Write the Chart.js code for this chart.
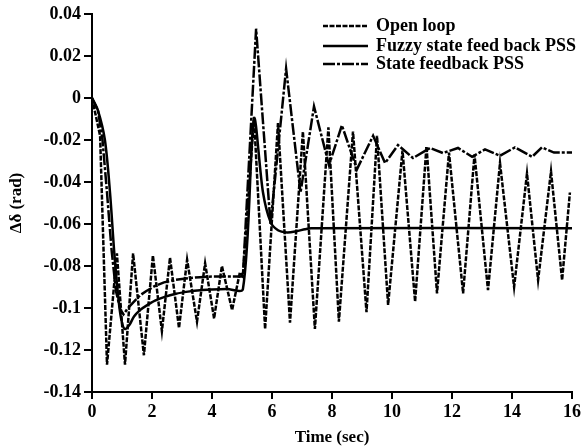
<!DOCTYPE html>
<html>
<head>
<meta charset="utf-8">
<script src="https://cdn.jsdelivr.net/npm/chart.js@4"></script>
<style>
  body { margin: 0; background: #fff; }
  #wrap { width: 584px; height: 448px; }
</style>
</head>
<body>
<div id="wrap"><canvas id="deltaChart" width="584" height="448"></canvas></div>
<script>
// Time samples (sec) and rotor angle deviation (rad) for each case
const openLoopTime = [0, 0.27, 0.5, 0.83, 1.1, 1.37, 1.73, 2.03, 2.33, 2.6, 2.9, 3.17, 3.5, 3.77, 4.07, 4.33, 4.67, 4.93, 5.03,
    5.4, 5.77, 6.2, 6.6, 7.03, 7.43, 7.88, 8.23, 8.7, 9.15, 9.5, 9.87, 10.35, 10.77, 11.15, 11.5, 11.9, 12.37, 12.75,
    13.2, 13.6, 14.07, 14.5, 14.87, 15.3, 15.67, 15.93];
const openLoopDelta = [0, -0.018, -0.127, -0.074, -0.127, -0.074, -0.1225, -0.075, -0.111, -0.076, -0.1095, -0.077, -0.1065, -0.0787, -0.105, -0.08, -0.101, -0.083, -0.085,
    -0.009, -0.11, -0.012, -0.107, -0.016, -0.11, -0.014, -0.1065, -0.016, -0.102, -0.018, -0.0985, -0.025, -0.097, -0.023, -0.093, -0.026, -0.093, -0.027,
    -0.0915, -0.031, -0.09, -0.036, -0.0867, -0.035, -0.0867, -0.045];

const fuzzyTime = [0, 0.2, 0.43, 0.6, 0.75, 0.9, 1.0, 1.1, 1.25, 1.4, 1.6, 1.8, 2.1, 2.4, 2.8, 3.2, 3.6, 4.0, 4.5, 5.03,
    5.4, 5.7, 5.95, 6.2, 6.5, 6.8, 7.1, 7.3, 16];
const fuzzyDelta = [0, -0.006, -0.02, -0.045, -0.075, -0.098, -0.107, -0.11, -0.108, -0.104, -0.101, -0.099, -0.0965, -0.0948, -0.0932, -0.0922, -0.0915, -0.0912, -0.091, -0.091,
    -0.01, -0.045, -0.059, -0.063, -0.064, -0.0635, -0.0625, -0.062, -0.062];

const stateFbTime = [0, 0.2, 0.35, 0.5, 0.65, 0.8, 0.95, 1.05, 1.2, 1.4, 1.6, 1.8, 2.1, 2.4, 2.8, 3.2, 3.6, 4.0, 5.03,
    5.47, 5.95, 6.47, 6.95, 7.4, 7.9, 8.33, 8.83, 9.37, 9.77, 10.2, 10.7, 11.27, 11.7, 12.2, 12.67, 13.1, 13.6,
    14.1, 14.67, 15.0, 15.4, 16];
const stateFbDelta = [0, -0.006, -0.02, -0.045, -0.072, -0.092, -0.101, -0.103, -0.1, -0.097, -0.094, -0.092, -0.0895, -0.0878, -0.0865, -0.0858, -0.0853, -0.085, -0.085,
    0.033, -0.06, 0.014, -0.045, -0.004, -0.032, -0.013, -0.034, -0.018, -0.031, -0.0224, -0.0286, -0.0238, -0.0262, -0.0238, -0.028, -0.0245, -0.0275,
    -0.0235, -0.028, -0.0235, -0.026, -0.026];

const seriesLabels = ['Open loop', 'Fuzzy state feed back PSS', 'State feedback PSS'];
const xTicks = [0, 2, 4, 6, 8, 10, 12, 14, 16];
const yTicks = [-0.14, -0.12, -0.1, -0.08, -0.06, -0.04, -0.02, 0, 0.02, 0.04];

function toPoints(ts, vs) {
    return ts.map((t, i) => ({ x: t, y: vs[i] }));
}

const serif = '"Liberation Serif", "Times New Roman", serif';

// Legend drawn inside the plot, top right
const innerLegend = {
    id: 'innerLegend',
    afterDraw(chart) {
        const c = chart.ctx;
        const rows = [26, 46, 64];
        c.save();
        chart.data.datasets.forEach((ds, i) => {
            const y = rows[i];
            c.strokeStyle = '#000';
            c.lineWidth = 2.5;
            c.setLineDash(ds.borderDash || []);
            c.beginPath();
            c.moveTo(323, y);
            c.lineTo(368, y);
            c.stroke();
            c.setLineDash([]);
            c.fillStyle = '#000';
            c.font = 'bold 18px ' + serif;
            c.textBaseline = 'middle';
            c.textAlign = 'left';
            c.fillText(ds.label, 376, y);
        });
        c.restore();
    }
};

const ctx = document.getElementById('deltaChart').getContext('2d');
const deltaChart = new Chart(ctx, {
    type: 'line',
    data: {
        datasets: [
            {
                label: seriesLabels[0],
                data: toPoints(openLoopTime, openLoopDelta),
                borderColor: '#000',
                borderWidth: 2.5,
                borderDash: [5, 1.5],
                pointRadius: 0,
                tension: 0
            },
            {
                label: seriesLabels[1],
                data: toPoints(fuzzyTime, fuzzyDelta),
                borderColor: '#000',
                borderWidth: 2.5,
                pointRadius: 0,
                tension: 0.3
            },
            {
                label: seriesLabels[2],
                data: toPoints(stateFbTime, stateFbDelta),
                borderColor: '#000',
                borderWidth: 2.5,
                borderDash: [12, 2, 3, 2],
                pointRadius: 0,
                tension: 0
            }
        ]
    },
    options: {
        responsive: false,
        animation: false,
        layout: { padding: { top: 14, right: 12, left: 0, bottom: 0 } },
        plugins: {
            legend: { display: false },
            tooltip: { enabled: false }
        },
        scales: {
            x: {
                type: 'linear',
                min: 0,
                max: 16,
                afterBuildTicks: axis => { axis.ticks = xTicks.map(v => ({ value: v })); },
                afterFit: axis => { axis.height = 56; },
                border: { color: '#000', width: 2 },
                grid: { drawOnChartArea: false, color: '#000', lineWidth: 2, tickLength: 7 },
                ticks: {
                    color: '#000',
                    padding: 3,
                    maxRotation: 0,
                    font: { family: serif, size: 18, weight: 'bold' }
                },
                title: {
                    display: true,
                    text: 'Time (sec)',
                    color: '#000',
                    padding: { top: 0, bottom: 0 },
                    font: { family: serif, size: 17, weight: 'bold' }
                }
            },
            y: {
                min: -0.14,
                max: 0.04,
                afterBuildTicks: axis => { axis.ticks = yTicks.map(v => ({ value: v })); },
                afterFit: axis => { axis.width = 92; },
                border: { color: '#000', width: 2 },
                grid: { drawOnChartArea: false, color: '#000', lineWidth: 2, tickLength: 8 },
                ticks: {
                    color: '#000',
                    padding: 3,
                    font: { family: serif, size: 18, weight: 'bold' },
                    callback: v => String(parseFloat(v.toFixed(2)))
                },
                title: {
                    display: true,
                    text: 'Δδ (rad)',
                    color: '#000',
                    padding: { top: 6, bottom: 0 },
                    font: { family: serif, size: 17, weight: 'bold' }
                }
            }
        }
    },
    plugins: [innerLegend]
});
</script>
</body>
</html>
